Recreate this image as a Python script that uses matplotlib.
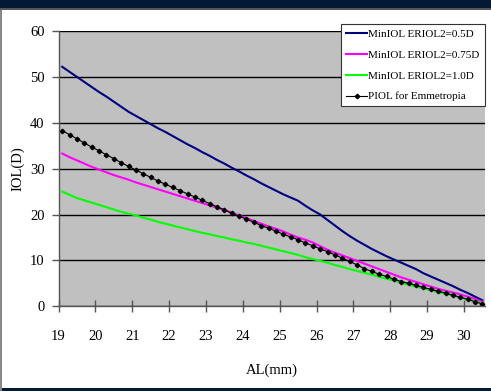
import numpy as np
import matplotlib.pyplot as plt
from matplotlib.patches import Rectangle

# axial length (mm), one point every 0.2 mm
al = [19.1, 19.3, 19.5, 19.7, 19.9, 20.1, 20.3, 20.5, 20.7, 20.9,
      21.1, 21.3, 21.5, 21.7, 21.9, 22.1, 22.3, 22.5, 22.7, 22.9,
      23.1, 23.3, 23.5, 23.7, 23.9, 24.1, 24.3, 24.5, 24.7, 24.9,
      25.1, 25.3, 25.5, 25.7, 25.9, 26.1, 26.3, 26.5, 26.7, 26.9,
      27.1, 27.3, 27.5, 27.7, 27.9, 28.1, 28.3, 28.5, 28.7, 28.9,
      29.1, 29.3, 29.5, 29.7, 29.9, 30.1, 30.3, 30.5]

miniol_05 = [52.2, 51.1, 50.0, 48.9, 47.8, 46.7, 45.7, 44.6, 43.5, 42.4,
             41.5, 40.6, 39.7, 38.8, 38.0, 37.1, 36.2, 35.3, 34.5, 33.6,
             32.8, 31.9, 31.1, 30.2, 29.4, 28.5, 27.7, 26.8, 26.0, 25.2,
             24.4, 23.7, 23.0, 21.9, 20.9, 20.0, 18.8, 17.6, 16.4, 15.3,
             14.3, 13.4, 12.5, 11.7, 10.9, 10.2, 9.5, 8.8, 8.1, 7.2,
             6.5, 5.8, 5.1, 4.4, 3.6, 2.9, 2.1, 1.3]

miniol_075 = [33.3, 32.5, 31.8, 31.1, 30.4, 29.8, 29.2, 28.6, 28.1, 27.6,
              27.0, 26.5, 26.0, 25.5, 25.0, 24.5, 24.0, 23.5, 23.0, 22.5,
              22.0, 21.5, 21.0, 20.4, 19.8, 19.2, 18.6, 18.0, 17.4, 16.9,
              16.3, 15.6, 15.0, 14.5, 13.9, 13.1, 12.3, 11.7, 11.1, 10.5,
              9.9, 9.3, 8.7, 8.1, 7.5, 6.9, 6.3, 5.8, 5.3, 4.8,
              4.3, 3.8, 3.4, 3.0, 2.6, 2.1, 1.6, 1.0]

miniol_10 = [25.0, 24.3, 23.6, 23.1, 22.6, 22.1, 21.6, 21.1, 20.6, 20.2,
             19.8, 19.3, 18.9, 18.4, 18.0, 17.6, 17.2, 16.8, 16.4, 16.0,
             15.7, 15.3, 15.0, 14.6, 14.3, 13.9, 13.6, 13.2, 12.8, 12.4,
             12.0, 11.6, 11.2, 10.7, 10.3, 9.9, 9.5, 9.0, 8.6, 8.1,
             7.7, 7.3, 6.9, 6.4, 6.0, 5.6, 5.1, 4.7, 4.3, 3.9,
             3.5, 3.1, 2.7, 2.3, 1.9, 1.5, 1.1, 0.7]

piol = [38.3, 37.4, 36.5, 35.6, 34.7, 33.9, 33.0, 32.2, 31.3, 30.5,
        29.7, 28.9, 28.1, 27.3, 26.6, 25.9, 25.2, 24.5, 23.8, 23.1,
        22.4, 21.7, 21.0, 20.3, 19.6, 19.0, 18.3, 17.6, 17.0, 16.4,
        15.7, 15.1, 14.5, 13.8, 13.2, 12.5, 11.9, 11.2, 10.5, 9.8,
        9.0, 8.2, 7.6, 7.0, 6.5, 5.9, 5.4, 5.0, 4.6, 4.1,
        3.7, 3.3, 2.9, 2.4, 2.0, 1.5, 1.0, 0.5]

labels = ['MinIOL ERIOL2=0.5D', 'MinIOL ERIOL2=0.75D',
          'MinIOL ERIOL2=1.0D', 'PIOL for Emmetropia']
x_ticks = list(range(19, 31))
y_ticks = [0, 10, 20, 30, 40, 50, 60]

plt.rcParams['font.family'] = ['Liberation Serif', 'DejaVu Serif']

fig = plt.figure(figsize=(4.91, 3.91), dpi=100)
fig.patch.set_facecolor('white')

# dark frame bands like the slide the chart was cut from
fig.patches.append(Rectangle((0, 1 - 8 / 391), 1, 8 / 391, transform=fig.transFigure,
                             facecolor='#021a35', edgecolor='none', zorder=0))
fig.patches.append(Rectangle((0, 1 - 10 / 391), 1, 2 / 391, transform=fig.transFigure,
                             facecolor='#555555', edgecolor='none', zorder=0))
fig.patches.append(Rectangle((0, 0), 1, 3 / 391, transform=fig.transFigure,
                             facecolor='#021a35', edgecolor='none', zorder=0))
fig.patches.append(Rectangle((0, 0), 2 / 491, 1 - 10 / 391, transform=fig.transFigure,
                             facecolor='#888888', edgecolor='none', zorder=0))

ax = fig.add_axes([58.5 / 491, 84.7 / 391, 426.5 / 491, 275.3 / 391])
ax.set_facecolor('#c0c0c0')

ax.plot(al, miniol_05, color='#000080', lw=1.5, label=labels[0])
ax.plot(al, miniol_075, color='#ff00ff', lw=1.5, label=labels[1])
ax.plot(al, miniol_10, color='#00ff00', lw=1.5, label=labels[2])
ax.plot(al, piol, color='black', lw=0.8, marker='D', markersize=2.3, label=labels[3])

ax.set_xlim(19, 30.57)
ax.set_ylim(0, 60)
ax.set_xticks(x_ticks)
ax.set_yticks(y_ticks)
ax.yaxis.grid(True, color='black', lw=1.0)
ax.set_axisbelow(True)

for s in ['top', 'right']:
    ax.spines[s].set_visible(False)
for s in ['left', 'bottom']:
    ax.spines[s].set_color('#555555')
    ax.spines[s].set_linewidth(1.0)

ax.tick_params(axis='x', direction='inout', length=8, width=1, color='#555555',
               pad=13, labelsize=10.5)
ax.tick_params(axis='y', direction='out', length=5, width=1, color='#555555',
               pad=5, labelsize=10.5)

ax.set_xlabel('AL(mm)', fontsize=10.5, labelpad=15)
ax.set_ylabel('IOL(D)', fontsize=10.5, labelpad=4)

handles, lbls = ax.get_legend_handles_labels()
leg = fig.legend(handles, lbls, loc='upper left',
                 bbox_to_anchor=(341 / 491, 1 - 24 / 391),
                 fontsize=8, frameon=True, fancybox=False, handlelength=1.9,
                 handletextpad=0.1, borderpad=0.45, labelspacing=1.0,
                 borderaxespad=0)
leg.get_frame().set_edgecolor('#333333')
leg.get_frame().set_linewidth(0.8)
leg.get_frame().set_alpha(1)

fig.savefig('out.png', dpi=100)
